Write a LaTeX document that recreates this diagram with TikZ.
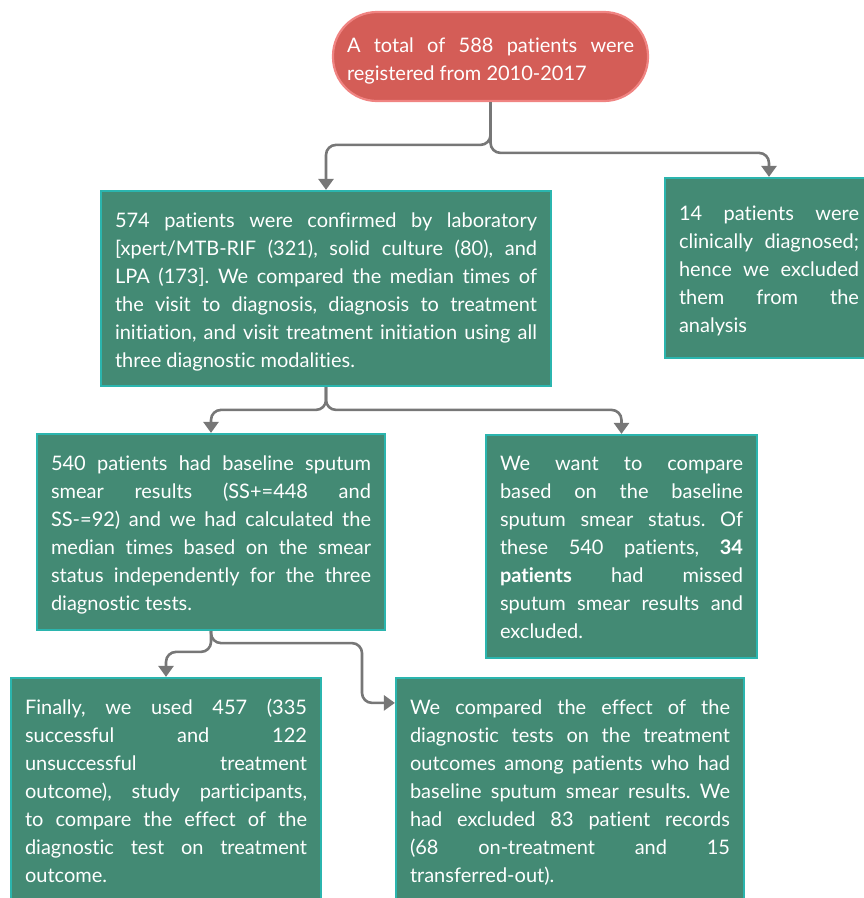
\documentclass[tikz,border=0pt]{standalone}
\usepackage{fontspec}
\setmainfont{Lato}[Ligatures=NoCommon]
\usetikzlibrary{arrows.meta,calc}
\definecolor{boxfill}{HTML}{438A74}
\definecolor{boxline}{HTML}{2BB5AE}
\definecolor{ovalfill}{HTML}{D45D57}
\definecolor{ovalline}{HTML}{F08482}
\definecolor{connc}{HTML}{777777}
\frenchspacing
\hyphenpenalty=10000
\exhyphenpenalty=10000
\tolerance=10000
\hbadness=10000
\tikzset{
  txt/.style={text=white, align=justify, inner ysep=0pt,
    font=\fontsize{20pt}{28pt}\selectfont},
  gbox/.style={txt, draw=boxline, fill=boxfill, line width=2.2pt, inner xsep=14pt},
  oval/.style={txt, draw=ovalline, fill=ovalfill, line width=2.2pt, inner xsep=14pt, rounded corners=44pt},
  conn/.style={draw=connc, line width=2.6pt, rounded corners=10pt,
    -{Triangle[width=15pt,length=11pt]}}
}
\begin{document}
\begin{tikzpicture}[x=1pt,y=-1pt]
\useasboundingbox (0,0) rectangle (864,898);
\clip (0,0) rectangle (864,898);
\node[oval, minimum width=315pt, minimum height=89pt, text width=287pt, text height=23pt] (top) at (490.5,56.5)
 {A total of 588 patients were\linebreak registered from 2010-2017};
\node[gbox, minimum width=450pt, minimum height=195pt, text width=422pt, text height=21pt] (A) at (326,288.5)
 {574 patients were confirmed by laboratory\linebreak
 {[}xpert/MTB-RIF (321), solid culture (80), and\linebreak
 LPA (173]. We compared the median times of\linebreak
 the visit to diagnosis, diagnosis to treatment\linebreak
 initiation, and visit treatment initiation using all\linebreak
 three diagnostic modalities.};
\node[gbox, minimum width=208pt, minimum height=180pt, text width=180pt, text height=21pt] (B) at (769,268)
 {14 patients were\linebreak
 clinically diagnosed;\linebreak
 hence we excluded\linebreak
 them from the\linebreak
 analysis};
\node[gbox, minimum width=348pt, minimum height=196pt, text width=320pt, text height=21pt] (C) at (211,532)
 {540 patients had baseline sputum\linebreak
 smear results (SS+=448 and\linebreak
 SS-=92) and we had calculated the\linebreak
 median times based on the smear\linebreak
 status independently for the three\linebreak
 diagnostic tests.};
\node[gbox, minimum width=271pt, minimum height=223pt, text width=243pt, text height=17pt] (D) at (621.5,546.5)
 {We want to compare\linebreak
 based on the baseline\linebreak
 sputum smear status. Of\linebreak
 these 540 patients, \textbf{34\linebreak
 patients} had missed\linebreak
 sputum smear results and\linebreak
 excluded.};
\node[gbox, minimum width=308pt, minimum height=224pt, text width=282pt, text height=18pt] (E) at (166,790)
 {Finally, we used 457 (335\linebreak
 successful and 122\linebreak
 unsuccessful treatment\linebreak
 outcome), study participants,\linebreak
 to compare the effect of the\linebreak
 diagnostic test on treatment\linebreak
 outcome.};
\node[gbox, minimum width=348pt, minimum height=224pt, text width=320pt, text height=19pt] (F) at (570,790)
 {We compared the effect of the\linebreak
 diagnostic tests on the treatment\linebreak
 outcomes among patients who had\linebreak
 baseline sputum smear results. We\linebreak
 had excluded 83 patient records\linebreak
 (68 on-treatment and 15\linebreak
 transferred-out).};
\draw[conn] (top.south) |- ($(A.north)+(0,-45)$) -- (A.north);
\draw[conn] (top.south) |- ($(B.north)+(0,-24)$) -- (B.north);
\draw[conn] (A.south) |- ($(C.north)+(0,-23)$) -- (C.north);
\draw[conn] (A.south) |- ($(D.north)+(0,-24)$) -- (D.north);
\draw[conn] (C.south) |- ($(E.north)+(0,-25)$) -- (E.north);
\draw[conn] (C.south) |- ++(151,12) |- ($(F.north west)+(0,26)$);
\end{tikzpicture}
\end{document}
